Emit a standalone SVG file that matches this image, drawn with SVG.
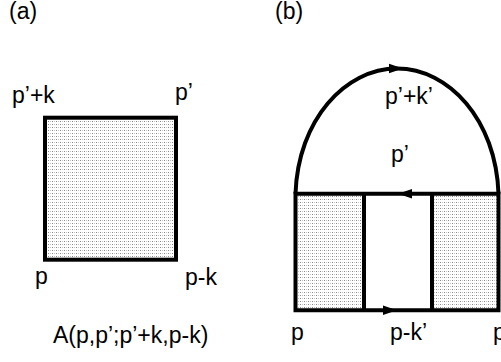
<svg xmlns="http://www.w3.org/2000/svg" width="501" height="362" viewBox="0 0 501 362">
  <defs>
    <pattern id="dots" width="4" height="3" patternUnits="userSpaceOnUse">
      <rect x="0" y="1" width="1" height="1" fill="#8a8a8a"/>
      <rect x="2" y="1" width="1" height="1" fill="#c4c4c4"/>
    </pattern>
  </defs>
  <style>
    text { font-family: "Liberation Sans", Arial, sans-serif; font-size: 23px; fill: #000; }
    .line { fill: none; stroke: #000; stroke-width: 4; }
    .shade { fill: url(#dots); }
    .head { fill: #000; }
  </style>
  <rect width="501" height="362" fill="#fff"/>

  <g id="panel-a">
    <text x="9" y="19">(a)</text>
    <g id="box-a">
      <rect x="45" y="117.7" width="131" height="142" fill="#fff"/>
      <rect class="shade" x="45" y="117.7" width="131" height="142"/>
      <rect class="line" x="45" y="117.7" width="131" height="142"/>
    </g>
    <text x="12" y="103">p’+k</text>
    <text x="175" y="100">p’</text>
    <text x="35" y="284">p</text>
    <text x="185" y="285">p-k</text>
    <text x="53" y="343">A(p,p’;p’+k,p-k)</text>
  </g>

  <g id="panel-b">
    <text x="275" y="19">(b)</text>
    <g id="box-left">
      <rect class="shade" x="295.5" y="193.7" width="68.5" height="116.6"/>
    </g>
    <g id="box-right">
      <rect class="shade" x="432" y="193.7" width="66.5" height="116.6"/>
    </g>
    <g id="connectors">
      <path class="line" d="M295.5,193.7 C298,120 345,68.5 397,68.5 C449,68.5 496,120 498.5,193.7"/>
      <path class="line" d="M295.5,193.7 H498.5 V310.3 H295.5 Z"/>
      <line class="line" x1="364" y1="193.7" x2="364" y2="310.3"/>
      <line class="line" x1="432" y1="193.7" x2="432" y2="310.3"/>
      <polygon class="head" points="403,68.5 389,63.8 389,73.2"/>
      <polygon class="head" points="398,193.7 412,189 412,198.4"/>
      <polygon class="head" points="397,310.3 383,305.6 383,315"/>
    </g>
    <text x="385" y="104">p’+k’</text>
    <text x="391" y="162">p’</text>
    <text x="291" y="340">p</text>
    <text x="390" y="340">p-k’</text>
    <text x="493" y="340">p</text>
  </g>
</svg>
